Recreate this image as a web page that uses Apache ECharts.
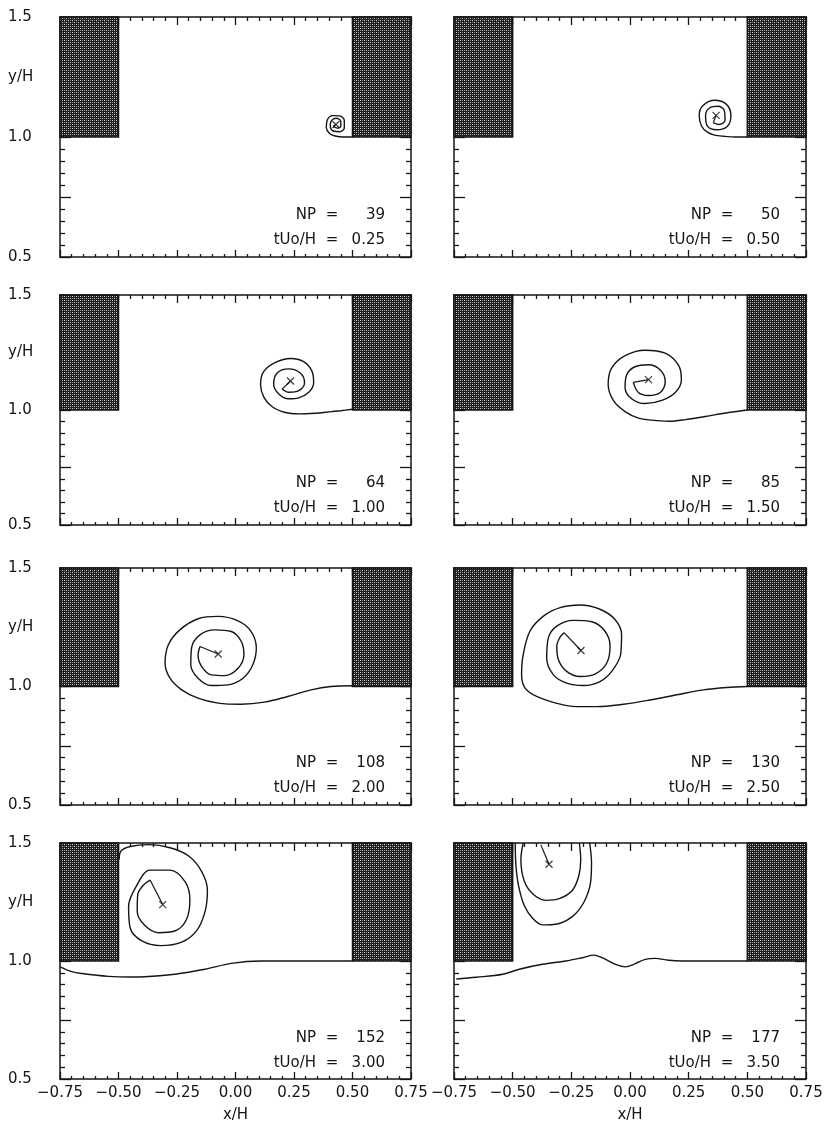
<!DOCTYPE html>
<html>
<head>
<meta charset="utf-8">
<script src="https://cdn.jsdelivr.net/npm/echarts@6/dist/echarts.min.js"></script>
<style>
  html, body { margin: 0; padding: 0; background: #fff; }
  #chart { width: 830px; height: 1124px; }
</style>
</head>
<body>
<div id="chart"></div>
<script>
// panel labels
const npValues = ['39', '50', '64', '85', '108', '130', '152', '177']
const timeLabels = ['0.25', '0.50', '1.00', '1.50', '2.00', '2.50', '3.00', '3.50']

// the two blocks (x range), both span y/H 1.0 .. 1.5
const walls = [[-0.75, -0.5], [0.5, 0.75]]
const wallBottom = 1.0
const wallTop = 1.5

// vortex centres (the little x)
const centres = [
  [0.429, 1.052], [0.367, 1.090], [0.235, 1.126], [0.079, 1.132],
  [-0.074, 1.137], [-0.209, 1.152], [-0.311, 1.239], [-0.345, 1.410],
]

// vortex sheet pieces per panel [x/H, y/H]
const sheet025 = [[[0.500,1.000],[0.462,1.000],[0.426,1.004],[0.402,1.015],[0.388,1.040],[0.392,1.070],[0.415,1.089],[0.445,1.088],[0.465,1.068],[0.465,1.038],[0.445,1.022],[0.418,1.025],[0.405,1.045],[0.410,1.068],[0.430,1.078],[0.450,1.065],[0.450,1.045],[0.435,1.037],[0.418,1.045]]]
const sheet050 = [[[0.500,1.000],[0.450,1.000],[0.400,1.003],[0.360,1.008],[0.330,1.020],[0.305,1.045],[0.295,1.090],[0.310,1.130],[0.360,1.153],[0.410,1.137],[0.430,1.090],[0.415,1.045],[0.370,1.030],[0.330,1.045],[0.322,1.090],[0.340,1.122],[0.375,1.128],[0.402,1.110],[0.405,1.070],[0.380,1.052],[0.355,1.060]]]
const sheet100 = [[[0.500,1.003],[0.450,0.997],[0.410,0.993],[0.340,0.986],[0.270,0.983],[0.213,0.989],[0.157,1.014],[0.121,1.056],[0.107,1.112],[0.121,1.168],[0.171,1.207],[0.235,1.224],[0.291,1.210],[0.327,1.168],[0.334,1.119],[0.313,1.077],[0.270,1.053],[0.227,1.049],[0.185,1.070],[0.163,1.112],[0.178,1.161],[0.227,1.179],[0.277,1.161],[0.295,1.119],[0.270,1.084],[0.227,1.077],[0.199,1.091]]]
const sheet150 = [[[0.500,1.000],[0.421,0.989],[0.321,0.972],[0.236,0.958],[0.164,0.951],[0.093,0.956],[0.036,0.965],[-0.021,0.993],[-0.071,1.042],[-0.093,1.111],[-0.079,1.181],[-0.021,1.236],[0.064,1.260],[0.150,1.247],[0.207,1.194],[0.219,1.132],[0.193,1.076],[0.136,1.042],[0.064,1.028],[0.007,1.049],[-0.021,1.097],[-0.014,1.153],[0.021,1.188],[0.079,1.197],[0.129,1.174],[0.150,1.125],[0.129,1.076],[0.079,1.063],[0.036,1.076],[0.014,1.120]]]
const sheet200 = [[[0.500,1.003],[0.408,1.000],[0.323,0.986],[0.223,0.958],[0.124,0.934],[0.025,0.925],[-0.074,0.930],[-0.160,0.951],[-0.230,0.986],[-0.280,1.035],[-0.301,1.099],[-0.287,1.176],[-0.238,1.239],[-0.160,1.286],[-0.074,1.296],[0.011,1.277],[0.067,1.232],[0.089,1.162],[0.074,1.092],[0.032,1.035],[-0.032,1.007],[-0.103,1.004],[-0.160,1.035],[-0.191,1.092],[-0.188,1.162],[-0.152,1.218],[-0.089,1.239],[-0.018,1.232],[0.025,1.190],[0.036,1.134],[0.011,1.077],[-0.046,1.046],[-0.103,1.049],[-0.145,1.085],[-0.160,1.134],[-0.152,1.169]]]
const sheet250 = [[[0.500,1.000],[0.412,0.996],[0.313,0.986],[0.199,0.965],[0.085,0.943],[-0.028,0.925],[-0.142,0.915],[-0.227,0.915],[-0.312,0.929],[-0.398,0.958],[-0.447,0.993],[-0.462,1.050],[-0.455,1.135],[-0.426,1.234],[-0.369,1.297],[-0.298,1.333],[-0.213,1.344],[-0.128,1.326],[-0.064,1.283],[-0.036,1.220],[-0.040,1.135],[-0.078,1.064],[-0.128,1.021],[-0.199,1.004],[-0.270,1.014],[-0.327,1.050],[-0.355,1.120],[-0.348,1.205],[-0.312,1.255],[-0.241,1.279],[-0.163,1.273],[-0.107,1.234],[-0.085,1.170],[-0.099,1.099],[-0.149,1.052],[-0.213,1.042],[-0.270,1.064],[-0.305,1.113],[-0.312,1.170],[-0.298,1.208],[-0.281,1.227]]]
const sheet300 = [
  [[-0.497,1.430],[-0.490,1.465],[-0.450,1.485],[-0.370,1.493],[-0.280,1.480],[-0.200,1.445],[-0.145,1.380],[-0.120,1.300],[-0.130,1.210],[-0.165,1.130],[-0.230,1.080],[-0.320,1.065],[-0.400,1.085],[-0.450,1.140],[-0.457,1.230],[-0.425,1.315],[-0.365,1.385],[-0.280,1.385],[-0.215,1.335],[-0.195,1.260],[-0.210,1.175],[-0.260,1.127],[-0.330,1.120],[-0.387,1.150],[-0.420,1.210],[-0.418,1.280],[-0.395,1.320],[-0.365,1.343]],
  [[-0.750,0.975],[-0.700,0.955],[-0.656,0.947],[-0.543,0.935],[-0.450,0.932],[-0.387,0.933],[-0.259,0.944],[-0.131,0.965],[-0.018,0.990],[0.110,1.000],[0.266,1.000],[0.500,1.000]],
]
const sheet350 = [
  [[-0.489,1.500],[-0.486,1.403],[-0.475,1.319],[-0.451,1.236],[-0.415,1.181],[-0.373,1.153],[-0.316,1.156],[-0.246,1.188],[-0.196,1.250],[-0.168,1.333],[-0.164,1.417],[-0.172,1.500]],
  [[-0.455,1.500],[-0.465,1.430],[-0.451,1.340],[-0.415,1.285],[-0.359,1.257],[-0.302,1.264],[-0.246,1.299],[-0.218,1.361],[-0.210,1.431],[-0.216,1.500]],
  [[-0.740,0.924],[-0.655,0.931],[-0.542,0.944],[-0.472,0.965],[-0.373,0.986],[-0.274,1.000],[-0.203,1.014],[-0.154,1.025],[-0.119,1.014],[-0.062,0.986],[-0.020,0.975],[0.023,0.989],[0.065,1.007],[0.107,1.011],[0.164,1.003],[0.220,1.000],[0.500,1.000]],
]
const sheets = [sheet025, sheet050, sheet100, sheet150, sheet200, sheet250, sheet300, sheet350]

// where the straight segment into each centre starts
const hookStarts = [
  [0.418, 1.045], [0.355, 1.060], [0.199, 1.091], [0.014, 1.120],
  [-0.152, 1.169], [-0.281, 1.227], [-0.365, 1.343], [-0.380, 1.492],
]

// layout of the 4 x 2 panels (px)
const cols = [{ left: 60, width: 351 }, { left: 454, width: 352 }]
const rows = [
  { top: 17, height: 240 },
  { top: 295, height: 230 },
  { top: 568, height: 237 },
  { top: 843, height: 237 },
]
const ink = '#151515'
const font = 'DejaVu Sans'

function makeHatch() {
  const c = document.createElement('canvas')
  c.width = 4
  c.height = 4
  const g = c.getContext('2d')
  g.fillStyle = '#1e1e1e'
  g.fillRect(0, 0, 4, 4)
  g.fillStyle = '#d4d4d4'
  g.fillRect(0, 0, 1, 1)
  g.fillRect(2, 2, 1, 1)
  g.fillStyle = '#8a8a8a'
  g.fillRect(2, 0, 1, 1)
  g.fillRect(0, 2, 1, 1)
  return c
}
const hatch = { image: makeHatch(), repeat: 'repeat' }

const fmtX = (v) => (v < 0 ? '\u2212' : '') + Math.abs(v).toFixed(2)
const fmtY = (v) => (v === 1.25 ? 'y/H' : v === 0.75 ? '' : v.toFixed(1))

const grid = []
const xAxis = []
const yAxis = []
const series = []
const graphic = []

for (let i = 0; i < 8; i++) {
  const r = Math.floor(i / 2)
  const c = i % 2
  const g = { left: cols[c].left, top: rows[r].top, width: cols[c].width, height: rows[r].height }
  grid.push(g)

  const line = { show: true, onZero: false, lineStyle: { color: ink, width: 1.5 } }
  const tick = (len) => ({ show: true, inside: true, length: len, lineStyle: { color: ink, width: 1.3 } })
  const minor = (len) => ({ show: true, splitNumber: 5, length: len, lineStyle: { color: ink, width: 1.3 } })
  const bottomRow = r === 3
  xAxis.push({
    gridIndex: i, type: 'value', position: 'bottom',
    min: -0.75, max: 0.75, interval: 0.25,
    axisLine: line,
    axisTick: tick(7),
    minorTick: minor(3),
    splitLine: { show: false },
    axisLabel: { show: bottomRow, formatter: fmtX, fontFamily: font, fontSize: 15, color: ink, margin: 7 },
    name: bottomRow ? 'x/H' : '', nameLocation: 'middle', nameGap: 29,
    nameTextStyle: { fontFamily: font, fontSize: 15, color: ink },
  })
  xAxis.push({
    gridIndex: i, type: 'value', position: 'top',
    min: -0.75, max: 0.75, interval: 0.25,
    axisLine: line,
    axisTick: tick(8),
    minorTick: minor(4),
    splitLine: { show: false },
    axisLabel: { show: false },
  })
  yAxis.push({
    gridIndex: i, type: 'value', position: 'left',
    min: 0.5, max: 1.5, interval: 0.25,
    axisLine: line,
    axisTick: tick(11),
    minorTick: minor(5),
    splitLine: { show: false },
    axisLabel: {
      show: c === 0, formatter: fmtY, align: 'left', margin: 52,
      fontFamily: font, fontSize: 15, color: ink,
    },
  })
  yAxis.push({
    gridIndex: i, type: 'value', position: 'right',
    min: 0.5, max: 1.5, interval: 0.25,
    axisLine: line,
    axisTick: tick(11),
    minorTick: minor(5),
    splitLine: { show: false },
    axisLabel: { show: false },
  })

  const xi = i * 2
  const yi = i * 2

  series.push({
    type: 'custom',
    xAxisIndex: xi, yAxisIndex: yi,
    z: 3,
    data: walls.map((w) => [w[0], wallBottom, w[1], wallTop]),
    encode: { x: [0, 2], y: [1, 3] },
    renderItem: (params, api) => {
      const p0 = api.coord([api.value(0), api.value(3)])
      const p1 = api.coord([api.value(2), api.value(1)])
      return {
        type: 'rect',
        shape: { x: p0[0], y: p0[1], width: p1[0] - p0[0], height: p1[1] - p0[1] },
        style: { fill: hatch, stroke: ink, lineWidth: 1.5 },
      }
    },
    silent: true,
  })

  sheets[i].forEach((piece) => {
    series.push({
      type: 'line',
      xAxisIndex: xi, yAxisIndex: yi,
      data: piece,
      smooth: 0.35,
      showSymbol: false,
      lineStyle: { color: ink, width: 1.4 },
      z: 4,
      silent: true,
    })
  })

  series.push({
    type: 'line',
    xAxisIndex: xi, yAxisIndex: yi,
    data: [hookStarts[i], centres[i]],
    showSymbol: false,
    lineStyle: { color: ink, width: 1.2 },
    z: 4,
    silent: true,
  })

  series.push({
    type: 'scatter',
    xAxisIndex: xi, yAxisIndex: yi,
    data: [centres[i]],
    symbol: 'path://M0,0L10,10M10,0L0,10',
    symbolSize: 7,
    itemStyle: { color: 'none', borderColor: ink, borderWidth: 1.3 },
    z: 5,
    silent: true,
  })

  // NP / tUo/H annotations, right-aligned inside the panel
  const right = g.left + g.width
  const bottom = g.top + g.height
  const txt = (x, y, text, align) => ({
    type: 'text', x, y,
    style: { text, fill: ink, font: `15px "${font}"`, textAlign: align, textVerticalAlign: 'middle' },
  })
  graphic.push(txt(right - 95, bottom - 42, 'NP', 'right'))
  graphic.push(txt(right - 79, bottom - 42, '=', 'center'))
  graphic.push(txt(right - 26, bottom - 42, npValues[i], 'right'))
  graphic.push(txt(right - 95, bottom - 17, 'tUo/H', 'right'))
  graphic.push(txt(right - 79, bottom - 17, '=', 'center'))
  graphic.push(txt(right - 26, bottom - 17, timeLabels[i], 'right'))
}

const chart = echarts.init(document.getElementById('chart'))
chart.setOption({
  backgroundColor: '#fff',
  animation: false,
  grid,
  xAxis,
  yAxis,
  series,
  graphic,
})
</script>
</body>
</html>
